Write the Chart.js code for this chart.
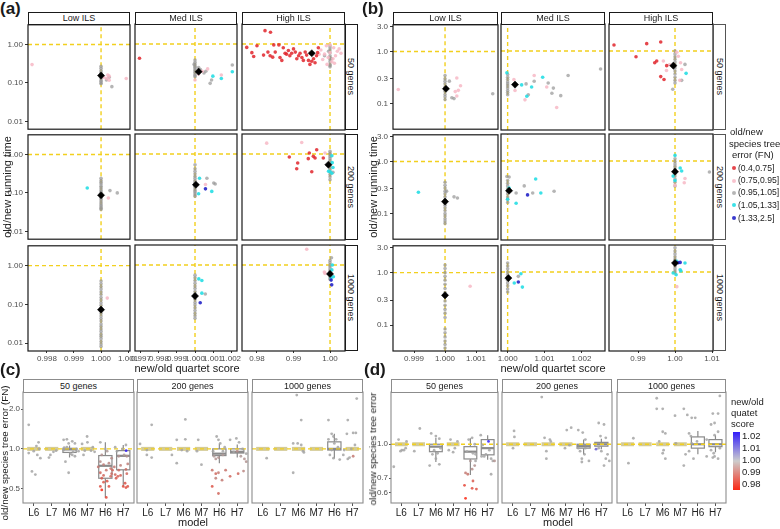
<!DOCTYPE html>
<html>
<head>
<meta charset="utf-8">
<title>ILS running time / species tree error</title>
<script src="https://cdn.jsdelivr.net/npm/chart.js@4.4.1/dist/chart.umd.min.js"></script>
<style>
  html, body { margin: 0; padding: 0; background: #fff; }
  body { position: relative; width: 780px; height: 529px; overflow: hidden;
         font-family: "Liberation Sans", Arial, sans-serif; color: #1a1a1a; }
  canvas { position: absolute; }
  .t { position: absolute; white-space: nowrap; line-height: 1; }
  .strip { position: absolute; box-sizing: border-box; background: #fff; font-size: 9px;
           display: flex; align-items: center; justify-content: center; white-space: nowrap; }
</style>
</head>
<body>
<script>
/* ==========================
   labels / ticks
   ========================== */
const ilsLabels = ['Low ILS', 'Med ILS', 'High ILS'];
const geneLabels = ['50 genes', '200 genes', '1000 genes'];
const models = ['L6', 'L7', 'M6', 'M7', 'H6', 'H7'];
const fnBins = ['(0.4,0.75]', '(0.75,0.95]', '(0.95,1.05]', '(1.05,1.33]', '(1.33,2.5]'];
const aYTicks = [0.01, 0.1, 1];
const bYTicks = [0.1, 0.3, 1, 3];
const aXTicks = [[0.998, 0.999, 1.000, 1.001], [0.997, 0.998, 0.999, 1.000, 1.001, 1.002], [0.98, 0.99, 1.00]];
const bXTicks = [[0.999, 1.000, 1.001], [1.000, 1.001, 1.002], [0.99, 1.00, 1.01]];
const cYTicks = [0.5, 1, 2];
const dYTicks = [0.6, 0.7, 1];
const scoreTicks = [1.02, 1.01, 1.00, 0.99, 0.98];

// axis limits
const aXRange = [[0.9973, 1.00107], [0.99667, 1.00233], [0.9759, 1.0041]];
const bXRange = [[0.99832, 1.00171], [0.99982, 1.00264], [0.98216, 1.01027]];
const aYRange = [0.00624, 3.26];
const bYRange = [0.0324, 3.24];
const cYRange = [0.39, 2.69];
const dYRange = [0.54, 1.73];

/* ==========================
   (a) quartet ratio vs time ratio
   Col = grey points at quartet ratio 1.000 (time ratio)
   Pts = [quartet ratio, time ratio, class]  class: 0 red,1 pink,2 grey,3 cyan,4 blue,5 mean
   ========================== */
const a50LowCol = [0.27, 0.24, 0.21, 0.19, 0.17, 0.15, 0.135, 0.12, 0.11, 0.1, 0.095];
const a50LowPts = [[1.0004, 0.08, 2], [1.0002, 0.12, 2], [1.0003, 0.14, 2],
  [0.99745, 0.3, 1], [1.0002, 0.13, 1], [1.0003, 0.15, 1], [1.0003, 0.118, 1], [1.00093, 0.13, 1],
  [1.0001, 0.14, 1], [1.00025, 0.16, 1], [1.0, 0.155, 5]];
const a50MedCol = [0.39, 0.34, 0.3, 0.27, 0.25, 0.23, 0.21, 0.19, 0.17, 0.155, 0.145];
const a50MedPts = [[0.99692, 0.43, 0],
  [0.99995, 0.3, 2], [1.0002, 0.25, 2], [1.0003, 0.22, 2], [1.0005, 0.18, 2], [1.0006, 0.2, 2],
  [1.00084, 0.098, 2], [1.00092, 0.12, 2], [1.00207, 0.29, 2],
  [1.00207, 0.195, 3], [1.00099, 0.15, 3], [1.00146, 0.13, 3],
  [1.00146, 0.16, 1], [1.0007, 0.23, 1], [1.0, 0.12, 1], [1.0004, 0.2, 1], [1.0002, 0.17, 1],
  [1.0002, 0.195, 5]];
const a50HighCol = [0.9, 0.8, 0.7, 0.6, 0.5, 0.45, 0.4, 0.35, 0.3, 0.28, 0.26];
const a50HighPts = [
  [0.9772, 0.82, 0], [0.9786, 0.6, 0], [0.9800, 0.9, 0], [0.9822, 2.2, 0], [0.9837, 2.0, 0],
  [0.9791, 0.48, 0], [0.9818, 0.52, 0], [0.9830, 0.62, 0], [0.9836, 0.5, 0], [0.9843, 0.46, 0],
  [0.9846, 0.95, 0], [0.9850, 0.62, 0], [0.9860, 0.95, 0], [0.9863, 0.45, 0], [0.9868, 0.38, 0],
  [0.9872, 0.8, 0], [0.9877, 0.58, 0], [0.9881, 0.55, 0], [0.9886, 0.68, 0], [0.9890, 0.5, 0],
  [0.9895, 0.58, 0], [0.9900, 0.75, 0], [0.9905, 0.62, 0], [0.9909, 0.42, 0], [0.9914, 0.5, 0],
  [0.9918, 0.58, 0], [0.9923, 0.45, 0], [0.9927, 0.38, 0], [0.9932, 0.62, 0], [0.9936, 0.52, 0],
  [0.9941, 0.38, 0], [0.9945, 0.3, 0], [0.9950, 0.36, 0], [0.9955, 0.42, 0], [0.9959, 0.33, 0],
  [0.9963, 0.5, 0], [0.9966, 0.6, 0], [0.9968, 0.8, 0],
  [0.9975, 0.7, 1], [0.9985, 0.55, 1], [0.999, 0.9, 1], [0.9995, 0.45, 1], [1.0, 0.6, 1],
  [1.0005, 0.35, 1], [1.001, 0.8, 1], [1.0015, 0.5, 1], [1.002, 0.65, 1], [1.0025, 0.75, 1],
  [1.003, 0.58, 1], [0.998, 0.4, 1], [0.9992, 0.3, 1], [1.0008, 0.42, 1], [0.997, 0.55, 1],
  [1.0, 0.95, 1], [1.0012, 0.32, 1],
  [0.9985, 0.5, 2], [0.9996, 0.65, 2], [1.0004, 0.42, 2],
  [0.995, 0.58, 5]];

const a200LowCol = [0.24, 0.21, 0.19, 0.17, 0.15, 0.135, 0.12, 0.108, 0.097, 0.088, 0.08, 0.072,
  0.065, 0.058, 0.052, 0.047, 0.043, 0.04, 0.037];
const a200LowPts = [[0.99949, 0.134, 3], [1.00033, 0.115, 2], [1.0006, 0.1, 2], [1.00027, 0.074, 1],
  [1.0, 0.087, 5]];
const a200MedCol = [0.53, 0.42, 0.36, 0.31, 0.27, 0.24, 0.21, 0.19, 0.17, 0.15, 0.135, 0.12, 0.11,
  0.1, 0.09, 0.082];
const a200MedPts = [[1.00025, 0.24, 3], [1.0002, 0.096, 3], [1.00093, 0.11, 3], [1.00058, 0.128, 4],
  [1.00058, 0.165, 1], [1.00066, 0.24, 2], [1.00104, 0.18, 2], [1.00112, 0.17, 2], [1.00005, 0.163, 5]];
const a200HighCol = [1.17, 1.05, 0.95, 0.85, 0.76, 0.68, 0.6, 0.55, 0.5, 0.45, 0.4, 0.35, 0.3, 0.26, 0.22];
const a200HighPts = [[0.98885, 0.84, 0], [0.99115, 0.59, 0], [0.99088, 0.42, 0], [0.99433, 1.06, 0],
  [0.99405, 0.76, 0], [0.99543, 0.87, 0], [0.9959, 0.79, 0], [0.99635, 1.29, 0], [0.99816, 0.79, 0],
  [0.995, 0.35, 0], [0.98266, 1.9, 1], [0.99225, 1.98, 1], [0.99863, 1.06, 1],
  [1.0005, 0.9, 3], [1.0, 0.35, 3], [1.0008, 0.45, 3], [1.0005, 0.32, 3], [0.9996, 0.36, 3], [1.0006, 0.6, 3],
  [1.0008, 0.34, 2], [0.99954, 0.53, 5]];

const a1000LowCol = [0.4, 0.34, 0.29, 0.25, 0.21, 0.18, 0.15, 0.13, 0.11, 0.095, 0.08, 0.068, 0.058,
  0.05, 0.043, 0.037, 0.031, 0.027, 0.023, 0.02, 0.017, 0.015, 0.013, 0.011, 0.0095, 0.0082];
const a1000LowPts = [[1.00023, 0.145, 1], [1.0, 0.073, 5]];
const a1000MedCol = [0.55, 0.47, 0.4, 0.34, 0.29, 0.25, 0.21, 0.18, 0.155, 0.13, 0.11, 0.095, 0.08,
  0.068, 0.058, 0.05, 0.043];
const a1000MedPts = [[1.00021, 0.44, 3], [1.00038, 0.4, 3], [1.00038, 0.19, 3], [1.00057, 0.18, 2],
  [1.00029, 0.108, 4], [1.0, 0.16, 5]];
const a1000HighCol = [1.3, 1.15, 1.0, 0.9, 0.8, 0.72, 0.65, 0.58, 0.52, 0.47, 0.43];
const a1000HighPts = [[1.0004, 1.54, 2], [0.99362, 2.53, 1], [0.99863, 0.61, 1], [0.99845, 0.66, 1],
  [1.00063, 1.0, 3], [1.0, 0.6, 3], [1.00091, 0.5, 3], [1.0003, 0.47, 3], [1.0005, 0.75, 3],
  [1.0003, 0.41, 4], [1.00046, 0.31, 4], [1.0, 0.59, 5]];

/* ==========================
   (b) same layout, second dataset
   ========================== */
const b50LowCol = [0.345, 0.3, 0.27, 0.24, 0.21, 0.19, 0.17, 0.15, 0.135, 0.12];
const b50LowPts = [[0.99849, 0.187, 1], [1.00014, 0.27, 2], [1.00022, 0.13, 2], [1.00029, 0.125, 2],
  [1.00154, 0.155, 2], [1.00038, 0.31, 1], [1.0005, 0.22, 1], [1.00043, 0.18, 1], [1.00038, 0.14, 1],
  [1.00033, 0.17, 1], [1.00003, 0.193, 5]];
const b50MedCol = [0.36, 0.32, 0.29, 0.26, 0.24, 0.22, 0.2, 0.18, 0.165, 0.15];
const b50MedPts = [[0.99998, 0.39, 3], [1.00038, 0.23, 3], [1.00065, 0.21, 3], [1.00095, 0.32, 3],
  [1.00052, 0.14, 3], [1.0005, 0.24, 2], [1.00072, 0.27, 2], [1.0011, 0.25, 2], [1.00124, 0.2, 2],
  [1.0012, 0.16, 2], [1.00144, 0.144, 2], [1.00164, 0.345, 2], [1.00252, 0.46, 2], [1.00056, 0.15, 2],
  [1.00072, 0.345, 1], [1.00106, 0.21, 1], [1.00133, 0.086, 1], [1.00047, 0.12, 1], [1.00017, 0.29, 1],
  [1.0002, 0.18, 1], [1.0002, 0.233, 5]];
const b50HighCol = [1.0, 0.88, 0.78, 0.7, 0.62, 0.55, 0.48, 0.42, 0.37, 0.32, 0.28, 0.25];
const b50HighPts = [[0.98351, 1.3, 0], [0.99235, 1.38, 0], [0.99614, 1.48, 0], [0.98946, 0.78, 0],
  [0.99505, 0.65, 0], [0.99452, 0.6, 0], [0.99775, 0.53, 0], [0.99614, 0.33, 0], [0.99703, 0.29, 0],
  [1.003, 0.38, 3], [0.99685, 0.65, 1], [0.9977, 0.43, 1], [1.0009, 0.8, 1], [1.0013, 0.28, 1],
  [1.0018, 0.45, 1], [1.0005, 0.95, 1], [0.9985, 0.55, 1], [1.0015, 0.6, 1],
  [1.0027, 0.56, 2], [1.0018, 0.28, 2], [0.9994, 0.19, 2], [0.99955, 0.53, 5]];

const b200LowCol = [0.4, 0.35, 0.31, 0.27, 0.24, 0.21, 0.185, 0.165, 0.145, 0.13, 0.115, 0.1, 0.09,
  0.08, 0.072, 0.065];
const b200LowPts = [[0.99914, 0.257, 3], [1.00005, 0.27, 2], [1.00029, 0.21, 2], [1.0004, 0.2, 2],
  [1.0, 0.17, 5]];
const b200MedCol = [0.43, 0.38, 0.34, 0.3, 0.27, 0.24, 0.21, 0.19, 0.166];
const b200MedPts = [[0.99998, 0.51, 2], [1.00004, 0.5, 2], [1.00023, 0.25, 2], [1.00045, 0.34, 2],
  [1.00126, 0.27, 2], [1.00068, 0.25, 2], [1.00004, 0.31, 3], [1.0, 0.19, 3], [1.00023, 0.16, 3],
  [1.00076, 0.46, 3], [1.0009, 0.25, 3], [1.00054, 0.23, 4], [1.00004, 0.276, 5]];
const b200HighCol = [1.1, 0.98, 0.88, 0.8, 0.72, 0.65, 0.58, 0.52, 0.46, 0.4, 0.34];
const b200HighPts = [[1.0, 1.28, 3], [1.0014, 0.74, 3], [1.0018, 0.65, 3], [1.0, 0.43, 3],
  [0.9995, 0.52, 3], [1.0027, 0.47, 1], [1.0025, 0.39, 1], [1.0, 0.35, 1], [1.0093, 0.62, 2],
  [1.0, 0.63, 5]];

const b1000LowCol = [1.4, 1.2, 1.0, 0.85, 0.72, 0.6, 0.5, 0.42, 0.35, 0.29, 0.24, 0.2, 0.17, 0.14,
  0.085, 0.072, 0.06, 0.05, 0.043, 0.037];
const b1000LowPts = [[1.00081, 0.55, 1], [1.0, 0.37, 5]];
const b1000MedCol = [1.48, 1.3, 1.15, 1.0, 0.9, 0.8, 0.7, 0.62, 0.55, 0.48, 0.42];
const b1000MedPts = [[1.00029, 0.83, 2], [1.00036, 0.93, 3], [1.00018, 0.62, 3], [1.0004, 0.52, 3],
  [1.00029, 0.65, 4], [1.00002, 0.77, 5]];
const b1000HighCol = [2.86, 2.5, 2.2, 1.95, 1.75, 1.58, 1.42, 1.28, 1.15, 1.05, 0.96];
const b1000HighPts = [[1.0005, 1.59, 3], [1.0027, 1.48, 3], [1.0014, 1.1, 3], [1.0003, 0.89, 3],
  [0.9995, 0.96, 3], [1.0016, 1.05, 3], [1.0014, 1.52, 4], [1.0009, 1.5, 4], [1.0005, 0.53, 1],
  [1.0, 1.48, 5]];

/* ==========================
   (c) / (d) error ratio per model
   Pts = [model position (with jitter), error ratio, quartet score]
   Box = [model, q1, median, q3, lower whisker, upper whisker]
   ========================== */
const c50Pts = [[-0.28, 1.52, 1], [-0.1, 0.675, 1], [0.09, 0.64, 1], [0.27, 1.12, 1], [0.3, 1.0, 1],
  [-0.28, 0.93, 1], [0.37, 0.85, 1], [0.2, 0.9, 1], [0, 0.96, 1], [0.15, 1.05, 1],
  [0.93, 0.9, 1], [0.85, 0.86, 1], [1.1, 0.95, 1], [1.25, 0.97, 1],
  [1.67, 1.17, 1], [1.85, 1.18, 1], [1.95, 1.1, 1], [2.15, 1.14, 1], [1.77, 0.8, 1], [1.95, 0.66, 1],
  [2.3, 1.1, 1], [2.4, 1.0, 1], [2.05, 0.92, 1], [2.2, 0.95, 1], [1.67, 0.98, 1], [2.5, 0.96, 1],
  [1.85, 1.03, 1], [2.15, 0.9, 1], [2.3, 0.88, 1], [1.7, 1.02, 1],
  [2.7, 1.09, 1], [2.98, 1.24, 1], [3.0, 1.12, 1], [2.78, 0.9, 1], [3.2, 0.97, 1], [3.4, 0.95, 1],
  [3.3, 1.03, 1], [2.85, 0.97, 1],
  [3.72, 1.12, 1], [4.0, 1.0, 1], [4.1, 0.96, 0.998], [3.8, 0.9, 0.997], [4.35, 0.85, 0.996],
  [3.72, 0.66, 0.99], [3.8, 0.6, 0.988], [3.9, 0.63, 0.99], [4.1, 0.57, 0.987], [4.2, 0.52, 0.986],
  [4.3, 0.62, 0.99], [4.35, 0.65, 0.991], [3.72, 0.52, 0.987], [3.8, 0.49, 0.98], [4.05, 0.43, 0.985],
  [4.05, 0.69, 0.992], [3.6, 0.73, 0.993], [4.3, 0.71, 0.992], [3.9, 0.76, 0.994], [4.2, 0.78, 0.995],
  [3.72, 0.8, 0.996], [4.4, 0.69, 0.99], [3.9, 0.56, 0.988],
  [5.16, 0.97, 1.02], [4.55, 1.03, 1], [4.65, 0.96, 1], [4.95, 1.0, 1], [5.15, 1.07, 1],
  [5.05, 0.9, 0.998], [5.2, 0.88, 0.997], [4.75, 0.88, 0.997], [4.55, 0.64, 0.99], [4.6, 0.6, 0.988],
  [4.75, 0.69, 0.991], [4.85, 0.63, 0.989], [5.0, 0.52, 0.986], [5.1, 0.55, 0.987], [5.15, 0.7, 0.991],
  [5.2, 0.65, 0.99], [5.15, 0.51, 0.986], [5.25, 0.52, 0.987], [4.7, 0.62, 0.989], [4.5, 0.73, 0.993],
  [4.85, 0.75, 0.994], [5.25, 0.77, 0.994]];
const c50Box = [[0, 1, 1, 1, 1, 1], [1, 1, 1, 1, 1, 1], [2, 0.94, 0.99, 1.01, 0.86, 1.06],
  [3, 1, 1, 1, 1, 1], [4, 0.6, 0.745, 0.89, 0.43, 1.12], [5, 0.695, 0.886, 0.97, 0.52, 1.07]];

const c200Pts = [[0.22, 1.52, 1], [-0.05, 0.9, 1], [0.22, 0.86, 1], [-0.43, 1.09, 1], [-0.05, 0.98, 1],
  [1.35, 0.9, 1],
  [2.1, 1.67, 1], [1.62, 1.17, 1], [2.1, 1.18, 1], [1.62, 0.78, 1], [1.9, 0.98, 1], [2.2, 0.96, 1],
  [2.82, 1.17, 1], [3.0, 0.76, 1], [2.75, 0.96, 1],
  [3.85, 1.24, 1], [3.95, 1.17, 1], [4.05, 1.1, 1], [3.7, 0.88, 0.998], [3.8, 0.84, 0.997],
  [3.95, 0.86, 0.997], [4.2, 0.9, 0.998], [3.6, 0.69, 0.992], [3.8, 0.65, 0.99], [3.95, 0.66, 0.993],
  [3.6, 0.52, 0.987], [3.95, 0.46, 0.99], [4.15, 0.58, 0.993], [4.35, 0.69, 0.992], [3.8, 0.6, 0.994],
  [4.2, 0.96, 1], [3.65, 0.96, 1], [4.3, 1.03, 1],
  [4.6, 1.17, 1], [4.95, 1.2, 1], [5.1, 1.12, 1], [5.3, 1.0, 1], [5.2, 0.88, 0.998], [5.4, 0.84, 0.997],
  [5.5, 0.8, 0.997], [5.35, 0.68, 0.995], [5.05, 0.65, 0.99], [4.6, 0.62, 0.99], [5.5, 0.92, 1],
  [4.8, 0.95, 1], [5.0, 0.96, 0.996]];
const c200Box = [[0, 1, 1, 1, 1, 1], [1, 1, 1, 1, 1, 1], [2, 1, 1, 1, 1, 1], [3, 1, 1, 1, 1, 1],
  [4, 0.89, 0.92, 1.0, 0.78, 1.1], [5, 0.93, 0.95, 1.0, 0.86, 1.08]];

const c1000Pts = [[0.22, 0.85, 1],
  [1.9, 2.55, 1], [2.15, 1.65, 1], [1.7, 0.66, 1], [1.95, 1.1, 1], [1.7, 1.1, 1], [2.15, 1.07, 1],
  [2.25, 0.96, 1], [2.3, 0.94, 1],
  [3.67, 1.65, 1], [3.85, 1.3, 1], [3.95, 1.24, 1], [3.67, 1.18, 1], [4.1, 1.18, 1], [3.75, 0.9, 1],
  [3.95, 0.85, 1], [4.3, 0.83, 1], [4.0, 1.1, 1], [4.2, 1.03, 1], [3.85, 0.98, 1],
  [5.25, 2.4, 1], [4.7, 1.3, 1], [5.05, 1.32, 1], [5.2, 1.32, 1], [4.75, 1.65, 1], [4.5, 0.9, 1],
  [4.85, 0.86, 1], [5.05, 0.88, 0.993], [4.75, 0.84, 1], [4.55, 0.98, 1], [5.15, 1.07, 1], [4.95, 1.0, 1]];
const c1000Box = [[0, 1, 1, 1, 1, 1], [1, 1, 1, 1, 1, 1], [2, 1, 1, 1, 1, 1], [3, 1, 1, 1, 1, 1],
  [4, 0.98, 1.0, 1.13, 0.85, 1.3], [5, 1, 1, 1, 1, 1]];

const d50Pts = [[-0.16, 1.05, 1], [0.03, 0.94, 1], [-0.44, 0.79, 1], [0.25, 0.96, 1], [0.3, 1.03, 1],
  [-0.05, 0.93, 1], [0.15, 0.94, 1],
  [1.07, 1.18, 1], [0.75, 0.93, 1],
  [1.73, 1.12, 1], [2.0, 1.09, 1], [2.2, 1.06, 1], [1.8, 0.9, 1], [2.0, 0.86, 1], [1.64, 0.8, 1],
  [2.2, 0.81, 1], [2.27, 0.96, 1], [2.1, 0.91, 1], [1.9, 0.94, 1],
  [2.75, 0.94, 1], [3.0, 0.92, 1], [3.25, 1.03, 1], [2.85, 1.05, 1], [3.1, 0.96, 1],
  [3.9, 1.05, 1], [4.1, 1.07, 1], [4.25, 1.0, 1], [3.8, 0.925, 1], [4.15, 0.91, 1], [4.3, 0.9, 1],
  [4.0, 0.84, 0.998], [4.25, 0.8, 0.997], [4.1, 0.77, 0.996], [4.3, 0.84, 1], [3.72, 0.74, 0.993],
  [3.85, 0.73, 0.992], [4.15, 0.68, 0.988], [3.66, 0.65, 0.985], [4.1, 0.63, 0.986],
  [4.35, 0.625, 0.987], [3.72, 0.567, 0.98],
  [5.05, 1.03, 1.02], [4.6, 1.1, 1], [4.7, 0.99, 1], [5.1, 0.94, 1], [4.8, 0.88, 1], [5.2, 0.86, 1],
  [5.3, 0.84, 1], [5.4, 0.84, 0.997], [4.9, 0.9, 1], [5.2, 0.73, 1], [4.65, 0.88, 1]];
const d50Box = [[0, 1, 1, 1, 1, 1], [1, 1, 1, 1, 1, 1], [2, 0.925, 0.975, 1.0, 0.83, 1.07],
  [3, 1, 1, 1, 1, 1], [4, 0.857, 0.925, 0.975, 0.725, 1.065], [5, 0.895, 0.96, 1.05, 0.85, 1.1]];

const d200Pts = [[0.08, 1.15, 1], [0.1, 1.08, 1], [0.02, 0.96, 1],
  [1.64, 1.64, 1], [1.8, 1.07, 1], [2.1, 1.05, 1], [1.9, 0.93, 1], [1.9, 0.86, 1], [2.15, 1.03, 1],
  [3.05, 1.16, 1], [3.3, 1.19, 1], [2.95, 0.96, 1], [3.2, 0.99, 1],
  [3.7, 1.16, 1], [3.95, 1.13, 1], [4.1, 1.05, 1], [3.8, 0.93, 1], [4.05, 0.9, 1], [3.9, 0.86, 1],
  [4.3, 0.84, 1], [3.9, 0.83, 1], [4.1, 0.96, 1], [3.7, 0.96, 1],
  [4.85, 1.25, 1], [5.15, 1.23, 1], [5.25, 1.07, 1], [4.95, 1.09, 1], [5.35, 0.9, 1], [5.25, 0.86, 1],
  [5.15, 0.8, 1], [5.45, 0.84, 1], [4.85, 0.96, 1], [4.7, 0.95, 1.01], [5.0, 0.93, 1]];
const d200Box = [[0, 1, 1, 1, 1, 1], [1, 1, 1, 1, 1, 1], [2, 1, 1, 1, 1, 1], [3, 1, 1, 1, 1, 1],
  [4, 0.96, 0.98, 1.0, 0.9, 1.05], [5, 0.98, 1.0, 1.02, 0.95, 1.06]];

const d1000Pts = [[0.33, 1.065, 1], [0.05, 0.82, 1],
  [1.66, 1.62, 1], [2.0, 1.45, 1], [1.66, 1.45, 1], [2.0, 1.14, 1], [2.15, 1.12, 1], [2.05, 0.94, 1],
  [2.0, 0.91, 1], [2.15, 0.86, 1], [1.8, 1.03, 1],
  [2.7, 1.35, 1], [2.75, 1.01, 1],
  [3.2, 1.45, 1], [3.4, 1.36, 1], [3.65, 1.32, 1], [3.85, 1.32, 1], [3.5, 1.12, 1], [3.6, 1.09, 1],
  [3.3, 0.9, 1], [3.2, 0.8, 1], [3.75, 0.86, 1], [3.5, 0.93, 1], [3.95, 1.03, 1], [3.65, 1.01, 1],
  [5.25, 1.66, 1], [5.15, 1.38, 1], [4.85, 1.38, 1], [4.95, 1.25, 1], [4.75, 1.23, 1], [5.15, 1.14, 1],
  [4.95, 1.1, 1], [4.5, 1.05, 1], [4.75, 0.94, 1], [4.85, 0.87, 1], [4.95, 0.88, 1], [5.15, 0.86, 1],
  [4.5, 0.88, 1], [5.25, 0.96, 1], [4.9, 0.91, 1]];
const d1000Box = [[0, 1, 1, 1, 1, 1], [1, 1, 1, 1, 1, 1], [2, 1, 1, 1, 1, 1], [3, 1, 1, 1, 1, 1],
  [4, 0.96, 1.0, 1.08, 0.9, 1.15], [5, 0.975, 1.0, 1.05, 0.92, 1.1]];

/* ==========================
   layout (pixels)
   ========================== */
const FONT = '"Liberation Sans", Arial, sans-serif';
Chart.defaults.font.family = FONT;
const PAD = { l: 16, r: 16, t: 6, b: 6 };
const A_COLS = [[28, 130], [135, 237], [242, 345]];
const B_COLS = [[393, 498], [501, 605], [609, 713]];
const AB_ROWS = [[24, 130], [134, 240], [245, 351]];
const C_COLS = [[23, 134], [137, 248], [252, 363]];
const D_COLS = [[391, 498], [502, 612], [617, 726]];
const CD_ROW = [392, 503];

const clsColors = ['rgba(225,36,44,0.85)', 'rgba(247,184,198,0.85)', 'rgba(150,150,150,0.7)',
  'rgba(38,222,228,0.9)', 'rgba(36,36,200,0.9)'];
const clsOrder = [30, 40, 50, 20, 10];
const YELLOW = 'rgb(242,208,30)';

function placeCanvas(l, r, t, b, yW, xH) {
  const cv = document.createElement('canvas');
  const w = (r - l) + PAD.l + PAD.r + yW;
  const h = (b - t) + PAD.t + PAD.b + xH;
  cv.width = w; cv.height = h;
  cv.style.width = w + 'px'; cv.style.height = h + 'px';
  cv.style.left = (l - PAD.l - yW) + 'px';
  cv.style.top = (t - PAD.t) + 'px';
  document.body.appendChild(cv);
  return cv;
}

function axis(o) {
  return {
    type: o.type, min: o.min, max: o.max, display: o.show,
    afterBuildTicks: s => { s.ticks = o.ticks.map(v => ({ value: v })); },
    afterFit: s => { if (!o.show) return; if (o.isX) s.height = o.size; else s.width = o.size; },
    grid: { display: true, drawOnChartArea: false, drawTicks: true, tickLength: o.tickLen || 3,
            color: o.tickColor || '#333', lineWidth: 1 },
    border: { display: false },
    ticks: { autoSkip: false, maxRotation: 0, minRotation: 0, padding: o.pad == null ? 2 : o.pad,
             color: o.color || '#4d4d4d', font: { size: o.fontSize || 8, family: FONT },
             callback: v => o.fmt(v) }
  };
}

function framePlugin(color, width) {
  return { id: 'frame', afterDatasetsDraw(chart) {
    const a = chart.chartArea, c = chart.ctx;
    c.save(); c.strokeStyle = color; c.lineWidth = width;
    c.strokeRect(a.left, a.top, a.right - a.left, a.bottom - a.top);
    c.restore();
  } };
}

function dashed(data) {
  return { data, showLine: true, borderColor: YELLOW, borderWidth: 1.4, borderDash: [4, 3],
           pointRadius: 0, order: 100 };
}

const baseOpts = () => ({
  responsive: false, animation: false, events: [], devicePixelRatio: 1,
  layout: { padding: { left: PAD.l, right: PAD.r, top: PAD.t, bottom: PAD.b } },
  plugins: { legend: { display: false }, tooltip: { enabled: false } }
});

/* ==========================
   (a)/(b) scatter facets
   ========================== */
function scatterFacet(o) {
  const yW = o.showY ? o.yW : 0, xH = o.showX ? 14 : 0;
  const cv = placeCanvas(o.l, o.r, o.t, o.b, yW, xH);
  const pts = o.col.map(v => [1, v, 2]).concat(o.pts);
  const datasets = [
    dashed([{ x: 1, y: o.yMin }, { x: 1, y: o.yMax }]),
    dashed([{ x: o.xMin, y: 1 }, { x: o.xMax, y: 1 }])
  ];
  clsColors.forEach((col, k) => datasets.push({
    data: pts.filter(p => p[2] === k).map(p => ({ x: p[0], y: p[1] })),
    backgroundColor: col, pointBackgroundColor: col, pointBorderWidth: 0, borderWidth: 0,
    pointRadius: 1.8, order: clsOrder[k]
  }));
  datasets.push({
    data: pts.filter(p => p[2] === 5).map(p => ({ x: p[0], y: p[1] })),
    pointStyle: 'rectRot', pointRadius: 3.6, backgroundColor: '#000', pointBackgroundColor: '#000',
    pointBorderColor: '#000', pointBorderWidth: 0.5, order: 0
  });
  const opts = baseOpts();
  opts.scales = {
    x: axis({ type: 'linear', min: o.xMin, max: o.xMax, show: o.showX, ticks: o.xTicks, isX: true,
              size: 14, tickLen: 2, pad: 1, fmt: o.xFmt }),
    y: axis({ type: 'logarithmic', min: o.yMin, max: o.yMax, show: o.showY, ticks: o.yTicks,
              size: o.yW, tickLen: 3, pad: 2, fmt: o.yFmt })
  };
  new Chart(cv, { type: 'scatter', data: { datasets }, options: opts,
                  plugins: [framePlugin('#1a1a1a', 1.2)] });
}

const aData = [[[a50LowCol, a50LowPts], [a50MedCol, a50MedPts], [a50HighCol, a50HighPts]],
               [[a200LowCol, a200LowPts], [a200MedCol, a200MedPts], [a200HighCol, a200HighPts]],
               [[a1000LowCol, a1000LowPts], [a1000MedCol, a1000MedPts], [a1000HighCol, a1000HighPts]]];
const bData = [[[b50LowCol, b50LowPts], [b50MedCol, b50MedPts], [b50HighCol, b50HighPts]],
               [[b200LowCol, b200LowPts], [b200MedCol, b200MedPts], [b200HighCol, b200HighPts]],
               [[b1000LowCol, b1000LowPts], [b1000MedCol, b1000MedPts], [b1000HighCol, b1000HighPts]]];

for (let r = 0; r < 3; r++) {
  for (let c = 0; c < 3; c++) {
    scatterFacet({ l: A_COLS[c][0], r: A_COLS[c][1], t: AB_ROWS[r][0], b: AB_ROWS[r][1],
      xMin: aXRange[c][0], xMax: aXRange[c][1], yMin: aYRange[0], yMax: aYRange[1],
      xTicks: aXTicks[c], yTicks: aYTicks, xFmt: v => v.toFixed(c === 2 ? 2 : 3),
      yFmt: v => v.toFixed(2), showX: r === 2, showY: c === 0, yW: 26,
      col: aData[r][c][0], pts: aData[r][c][1] });
    scatterFacet({ l: B_COLS[c][0], r: B_COLS[c][1], t: AB_ROWS[r][0], b: AB_ROWS[r][1],
      xMin: bXRange[c][0], xMax: bXRange[c][1], yMin: bYRange[0], yMax: bYRange[1],
      xTicks: bXTicks[c], yTicks: bYTicks, xFmt: v => v.toFixed(c === 2 ? 2 : 3),
      yFmt: v => v.toFixed(1), showX: r === 2, showY: c === 0, yW: 24,
      col: bData[r][c][0], pts: bData[r][c][1] });
  }
}

/* ==========================
   (c)/(d) box facets
   ========================== */
function scoreColor(s) {
  const t = Math.max(-1, Math.min(1, (s - 1) / 0.02));
  const mid = [165, 165, 165], end = t < 0 ? [250, 40, 20] : [50, 30, 250], a = Math.abs(t);
  const c = mid.map((m, i) => Math.round(m + (end[i] - m) * a));
  return `rgba(${c[0]},${c[1]},${c[2]},0.85)`;
}

function boxPlugin(boxes) {
  return { id: 'boxes', beforeDatasetsDraw(chart) {
    const { ctx, scales: { x, y } } = chart;
    const a = chart.chartArea;
    ctx.save();
    ctx.beginPath(); ctx.rect(a.left, a.top, a.right - a.left, a.bottom - a.top); ctx.clip();
    boxes.forEach(([m, q1, med, q3, lo, hi]) => {
      const xl = x.getPixelForValue(m - 0.37), xr = x.getPixelForValue(m + 0.37), xc = x.getPixelForValue(m);
      if (q1 === q3) {
        ctx.strokeStyle = 'rgba(212,203,150,1)'; ctx.lineWidth = 4;
        ctx.beginPath(); ctx.moveTo(xl, y.getPixelForValue(med)); ctx.lineTo(xr, y.getPixelForValue(med)); ctx.stroke();
        return;
      }
      ctx.strokeStyle = '#8a8a8a'; ctx.lineWidth = 1.2;
      ctx.beginPath();
      ctx.moveTo(xc, y.getPixelForValue(q3)); ctx.lineTo(xc, y.getPixelForValue(hi));
      ctx.moveTo(xc, y.getPixelForValue(q1)); ctx.lineTo(xc, y.getPixelForValue(lo));
      ctx.stroke();
      const yt = y.getPixelForValue(q3), yb = y.getPixelForValue(q1);
      ctx.fillStyle = '#fff';
      ctx.fillRect(xl, yt, xr - xl, yb - yt);
      ctx.strokeRect(xl, yt, xr - xl, yb - yt);
      ctx.lineWidth = 2.2;
      ctx.beginPath(); ctx.moveTo(xl, y.getPixelForValue(med)); ctx.lineTo(xr, y.getPixelForValue(med)); ctx.stroke();
    });
    ctx.restore();
  } };
}

function boxFacet(o) {
  const yW = o.showY ? 22 : 0, xH = 16;
  const cv = placeCanvas(o.l, o.r, CD_ROW[0], CD_ROW[1], yW, xH);
  const datasets = [
    dashed([{ x: -0.6, y: 1 }, { x: 5.6, y: 1 }]),
    { data: o.pts.map(p => ({ x: p[0], y: p[1] })),
      backgroundColor: o.pts.map(p => scoreColor(p[2])), pointBackgroundColor: o.pts.map(p => scoreColor(p[2])),
      pointBorderWidth: 0, borderWidth: 0, pointRadius: 1.4, order: 10 }
  ];
  const opts = baseOpts();
  opts.scales = {
    x: axis({ type: 'linear', min: -0.6, max: 5.6, show: true, ticks: [0, 1, 2, 3, 4, 5], isX: true,
              size: xH, tickLen: 3, pad: 1, fontSize: 10, color: '#222', tickColor: '#555',
              fmt: v => models[Math.round(v)] }),
    y: axis({ type: 'logarithmic', min: o.yMin, max: o.yMax, show: o.showY, ticks: o.yTicks,
              size: 22, tickLen: 2, pad: 1, tickColor: '#555', fmt: v => v.toFixed(1) })
  };
  new Chart(cv, { type: 'scatter', data: { datasets }, options: opts,
                  plugins: [boxPlugin(o.boxes), framePlugin('#8c8c8c', 1.1)] });
}

const cPts = [c50Pts, c200Pts, c1000Pts], cBoxes = [c50Box, c200Box, c1000Box];
const dPts = [d50Pts, d200Pts, d1000Pts], dBoxes = [d50Box, d200Box, d1000Box];
for (let c = 0; c < 3; c++) {
  boxFacet({ l: C_COLS[c][0], r: C_COLS[c][1], yMin: cYRange[0], yMax: cYRange[1], yTicks: cYTicks,
             showY: c === 0, pts: cPts[c], boxes: cBoxes[c] });
  boxFacet({ l: D_COLS[c][0], r: D_COLS[c][1], yMin: dYRange[0], yMax: dYRange[1], yTicks: dYTicks,
             showY: c === 0, pts: dPts[c], boxes: dBoxes[c] });
}

/* ==========================
   text, strips, legends
   ========================== */
function txt(s, x, y, css) {
  const d = document.createElement('div');
  d.className = 't'; d.textContent = s;
  d.style.left = x + 'px'; d.style.top = y + 'px';
  Object.assign(d.style, css || {});
  document.body.appendChild(d);
  return d;
}
function centered(s, x, y, size, rot) {
  return txt(s, x, y, { fontSize: size + 'px',
    transform: 'translate(-50%,-50%)' + (rot ? ' rotate(' + rot + 'deg)' : '') });
}
function strip(s, l, t, w, h, border, vertical) {
  const d = document.createElement('div');
  d.className = 'strip'; d.textContent = s;
  Object.assign(d.style, { left: l + 'px', top: t + 'px', width: w + 'px', height: h + 'px', border });
  if (vertical) d.style.writingMode = 'vertical-rl';
  document.body.appendChild(d);
}

// panel tags
txt('(a)', 0, 0, { fontSize: '17px', fontWeight: 'bold' });
txt('(b)', 362, 0, { fontSize: '17px', fontWeight: 'bold' });
txt('(c)', 0, 361, { fontSize: '17px', fontWeight: 'bold' });
txt('(d)', 364, 361, { fontSize: '17px', fontWeight: 'bold' });

// strips for (a) and (b)
for (let c = 0; c < 3; c++) {
  strip(ilsLabels[c], A_COLS[c][0], 12, A_COLS[c][1] - A_COLS[c][0], 12.5, '1.2px solid #1a1a1a');
  strip(ilsLabels[c], B_COLS[c][0], 12, B_COLS[c][1] - B_COLS[c][0], 12.5, '1.2px solid #1a1a1a');
}
for (let r = 0; r < 3; r++) {
  const h = AB_ROWS[r][1] - AB_ROWS[r][0];
  strip(geneLabels[r], 345, AB_ROWS[r][0], 12.5, h, '1.2px solid #1a1a1a', true);
  strip(geneLabels[r], 713, AB_ROWS[r][0], 13, h, '1.2px solid #555', true);
}
// strips for (c) and (d)
for (let c = 0; c < 3; c++) {
  strip(geneLabels[c], C_COLS[c][0], 379, C_COLS[c][1] - C_COLS[c][0], 13.5, '1px solid #8c8c8c');
  strip(geneLabels[c], D_COLS[c][0], 379, D_COLS[c][1] - D_COLS[c][0], 13.5, '1px solid #8c8c8c');
}

// axis titles
centered('old/new running time', 7, 187, 11, -90);
centered('old/new running time', 373, 187, 11, -90);
centered('new/old quartet score', 187, 368, 11);
centered('new/old quartet score', 553, 368, 11);
centered('old/new species tree error (FN)', 5, 453, 9.8, -90);
centered('old/new species tree error', 373, 449, 9.8, -90);
centered('model', 193, 522, 11);
centered('model', 558, 522, 11);

// legend for (b)
txt('old/new', 730, 127, { fontSize: '9.5px' });
txt('species tree', 729, 139, { fontSize: '9.5px' });
txt('error (FN)', 732, 150, { fontSize: '9.5px' });
const legY = [168, 180.7, 192.5, 205.3, 218.3];
fnBins.forEach((lab, k) => {
  const dot = document.createElement('div');
  Object.assign(dot.style, { position: 'absolute', left: '732px', top: (legY[k] - 2) + 'px', width: '4px',
    height: '4px', borderRadius: '50%', background: clsColors[k] });
  document.body.appendChild(dot);
  txt(lab, 738, legY[k] - 4.5, { fontSize: '8.6px' });
});

// colour bar for (c)/(d)
txt('new/old', 731, 397, { fontSize: '9.5px' });
txt('quatet', 731, 408, { fontSize: '9.5px' });
txt('score', 731, 419, { fontSize: '9.5px' });
const bar = document.createElement('div');
Object.assign(bar.style, { position: 'absolute', left: '733px', top: '432px', width: '7px', height: '58px',
  background: 'linear-gradient(to bottom, rgb(50,30,250), rgb(205,205,205) 50%, rgb(250,40,20))' });
document.body.appendChild(bar);
scoreTicks.forEach(v => {
  const yy = 460 - (v - 1) / 0.01 * 12.1;
  txt(v.toFixed(2), 742, yy - 5, { fontSize: '9.5px' });
});
</script>
</body>
</html>
